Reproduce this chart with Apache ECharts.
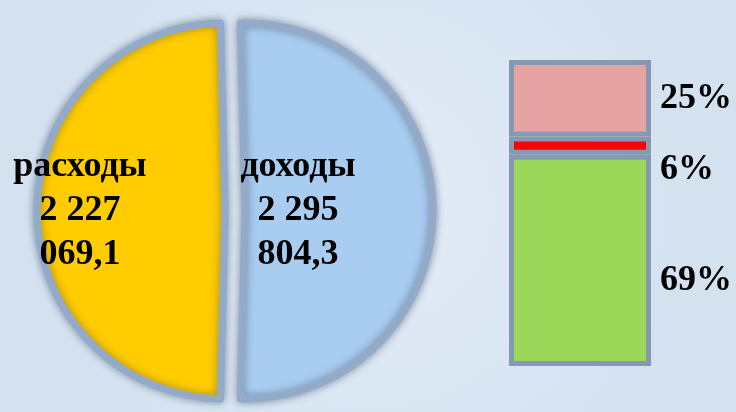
<!DOCTYPE html>
<html>
<head>
<meta charset="utf-8">
<script src="https://cdn.jsdelivr.net/npm/echarts@6/dist/echarts.min.js"></script>
<style>
  html, body { margin: 0; padding: 0; }
  #chart { width: 736px; height: 412px; }
</style>
</head>
<body>
<div id="chart"></div>
<script>
// доходы / расходы бюджета
const pieNames = ['доходы', 'расходы'];
const pieValues = [2295804.3, 2227069.1];
const pieColors = ['#a9cdf0', '#ffcc00'];
const pieLabelShift = [-44, -48];       // сдвиг подписи внутри сектора

// структура (столбец справа), снизу вверх
const barCategories = ['структура'];
const shareNames = ['69', '6', '25'];
const shareValues = [69, 6, 25];
const shareColors = ['#9bd85a', '#ff0000', '#e6a3a3'];
const shareLabelDy = [20, 24, 0];

const serif = '"Liberation Serif", "DejaVu Serif", serif';

// 2295804.3 -> "2 295\n804,3"
function fmtMoney(v) {
  const parts = v.toFixed(1).split('.');
  const groups = parts[0].replace(/\B(?=(\d{3})+(?!\d))/g, ' ').split(' ');
  const last = groups.pop();
  return groups.join(' ') + '\n' + last + ',' + parts[1];
}

const total = pieValues.reduce((a, b) => a + b, 0);
const startAngle = 90 + (pieValues[0] / total * 360 - 180) / 2;   // граница почти вертикальная

const chart = echarts.init(document.getElementById('chart'));

chart.setOption({
  animation: false,
  backgroundColor: {
    type: 'radial', x: 0.5, y: 0.5, r: 0.8,
    colorStops: [{ offset: 0, color: '#e4edf7' }, { offset: 1, color: '#d4e2f0' }]
  },
  grid: { left: 509, top: 60, width: 142, height: 306 },
  xAxis: { type: 'category', data: barCategories, show: false },
  yAxis: { type: 'value', min: 0, max: 100, show: false },
  series: [
    {
      type: 'pie',
      center: [235, 211],
      radius: 188,
      startAngle: startAngle,
      clockwise: true,
      selectedMode: 'multiple',
      selectedOffset: 10,
      emphasis: { disabled: true },
      itemStyle: {
        borderColor: '#93abc8',
        borderWidth: 7,
        shadowBlur: 8,
        shadowColor: 'rgba(40,60,90,0.45)'
      },
      label: {
        position: 'inside',
        formatter: p => p.name + '\n' + fmtMoney(p.value),
        color: '#000',
        fontFamily: serif,
        fontWeight: 'bold',
        fontSize: 36,
        lineHeight: 44,
        align: 'center'
      },
      labelLayout: p => ({ dx: pieLabelShift[p.dataIndex] }),
      data: pieNames.map((n, i) => ({
        name: n,
        value: pieValues[i],
        selected: true,
        itemStyle: { color: pieColors[i] }
      }))
    },
    ...shareValues.map((v, i) => ({
      type: 'bar',
      name: shareNames[i],
      stack: 'share',
      barWidth: '100%',
      data: [v],
      itemStyle: {
        color: shareColors[i],
        borderColor: '#8699b3',
        borderWidth: 5
      },
      label: {
        show: true,
        position: 'right',
        distance: 9,
        offset: [0, shareLabelDy[i]],
        formatter: '{c}%',
        color: '#000',
        fontFamily: serif,
        fontWeight: 'bold',
        fontSize: 36
      }
    }))
  ]
});
</script>
</body>
</html>
